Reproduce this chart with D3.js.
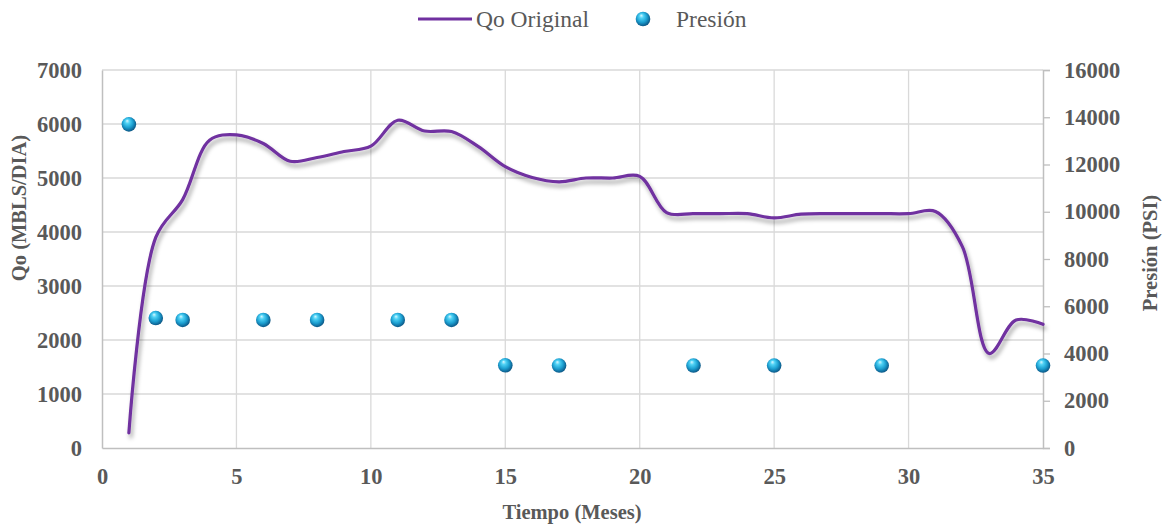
<!DOCTYPE html>
<html>
<head>
<meta charset="utf-8">
<script src="https://cdn.jsdelivr.net/npm/d3@7"></script>
<style>
  html, body { margin: 0; padding: 0; background: #fff; }
  svg { display: block; }
</style>
</head>
<body>
<svg id="chart" width="1166" height="524" font-family="Liberation Serif, Times New Roman, serif"></svg>
<script>
// Monthly oil rate (Qo, MBLS/DIA)
const months = d3.range(1, 36);
const qoOriginal = [280, 3900, 4600, 5700, 5800, 5640, 5310, 5380, 5490, 5590,
                    6070, 5870, 5860, 5580, 5210, 5010, 4930, 5000, 5000, 5030,
                    4360, 4340, 4340, 4340, 4260, 4330, 4340, 4340, 4340, 4340,
                    4380, 3730, 1750, 2370, 2290];

// Pressure measurements (PSI)
const pressureMonths = [1, 2, 3, 6, 8, 11, 13, 15, 17, 22, 25, 29, 35];
const pressureValues = [13700, 5500, 5420, 5420, 5420, 5420, 5420, 3500, 3490, 3490, 3490, 3490, 3490];

const xTicks = [0, 5, 10, 15, 20, 25, 30, 35];
const qoTicks = d3.range(0, 7001, 1000);
const pressureTicks = d3.range(0, 16001, 2000);

const svg = d3.select("#chart");
const margin = { left: 102, right: 123, top: 70, bottom: 76 };
const W = 1166, H = 524;
const x = d3.scaleLinear().domain([0, 35]).range([margin.left, W - margin.right]);
const yL = d3.scaleLinear().domain([0, 7000]).range([H - margin.bottom, margin.top]);
const yR = d3.scaleLinear().domain([0, 16000]).range([H - margin.bottom, margin.top]);

const textColor = "#595959";
const gridColor = "#d9d9d9";
const axisColor = "#bfbfbf";
const serif = "Liberation Serif, Times New Roman, serif";

const defs = svg.append("defs");
const shadow = defs.append("filter").attr("id", "lineShadow")
  .attr("x", "-10%").attr("y", "-10%").attr("width", "120%").attr("height", "130%");
shadow.append("feDropShadow").attr("dx", 2).attr("dy", 4).attr("stdDeviation", 2.2)
  .attr("flood-color", "#000").attr("flood-opacity", 0.35);

const sphere = defs.append("radialGradient").attr("id", "sphere")
  .attr("cx", "0.45").attr("cy", "0.45").attr("r", "0.6")
  .attr("fx", "0.38").attr("fy", "0.25");
[["0%", "#d8f7ff"], ["25%", "#4fd2f5"], ["60%", "#1c9fd0"], ["90%", "#0d5f8f"], ["100%", "#0a4a70"]]
  .forEach(([o, c]) => sphere.append("stop").attr("offset", o).attr("stop-color", c));

// Gridlines
const grid = svg.append("g");
grid.selectAll("line.h").data(qoTicks.slice(1)).join("line")
  .attr("x1", x(0)).attr("x2", x(35))
  .attr("y1", d => yL(d)).attr("y2", d => yL(d))
  .attr("stroke", gridColor).attr("stroke-width", 1.3);
grid.selectAll("line.v").data(xTicks.slice(1, -1)).join("line")
  .attr("x1", d => x(d)).attr("x2", d => x(d))
  .attr("y1", yL(0)).attr("y2", yL(7000))
  .attr("stroke", gridColor).attr("stroke-width", 1.3);

// Axes
const fmt = d3.format("d");
const xAxis = svg.append("g").attr("transform", `translate(0,${yL(0)})`)
  .call(d3.axisBottom(x).tickValues(xTicks).tickFormat(fmt).tickSize(0).tickPadding(20));
const leftAxis = svg.append("g").attr("transform", `translate(${x(0)},0)`)
  .call(d3.axisLeft(yL).tickValues(qoTicks).tickFormat(fmt).tickSize(0).tickPadding(20));
const rightAxis = svg.append("g").attr("transform", `translate(${x(35)},0)`)
  .call(d3.axisRight(yR).tickValues(pressureTicks).tickFormat(fmt).tickSize(7).tickPadding(14));
[xAxis, leftAxis, rightAxis].forEach(g => {
  g.attr("font-family", serif).attr("font-size", 22.5).attr("font-weight", "bold");
  g.select(".domain").attr("stroke", axisColor).attr("stroke-width", 1.5);
  g.selectAll(".tick line").attr("stroke", axisColor).attr("stroke-width", 1.3);
  g.selectAll(".tick text").attr("fill", textColor);
});

// Axis titles
const title = (sel) => sel.attr("text-anchor", "middle").attr("fill", textColor)
  .attr("font-family", serif).attr("font-size", 20.5).attr("font-weight", "bold");
svg.append("text").attr("x", 572).attr("y", 519).call(title).text("Tiempo (Meses)");
svg.append("text").attr("transform", "translate(26,208) rotate(-90)").call(title).text("Qo (MBLS/DIA)");
svg.append("text").attr("transform", "translate(1157,253) rotate(-90)").call(title).text("Presión (PSI)");

// Qo smoothed line
const line = d3.line().x((d, i) => x(months[i])).y(d => yL(d)).curve(d3.curveCatmullRom.alpha(0.5));
svg.append("path").datum(qoOriginal)
  .attr("d", line).attr("fill", "none")
  .attr("stroke", "#7030a0").attr("stroke-width", 3.2).attr("stroke-linecap", "round")
  .attr("filter", "url(#lineShadow)");

// Pressure markers
svg.append("g").selectAll("circle").data(pressureValues).join("circle")
  .attr("cx", (d, i) => x(pressureMonths[i])).attr("cy", d => yR(d))
  .attr("r", 7.3).attr("fill", "url(#sphere)");

// Legend
const legend = svg.append("g").attr("font-family", serif).attr("font-size", 23.5).attr("fill", textColor);
legend.append("line").attr("x1", 418).attr("x2", 472).attr("y1", 19).attr("y2", 19)
  .attr("stroke", "#7030a0").attr("stroke-width", 3.2);
legend.append("text").attr("x", 476).attr("y", 27).text("Qo Original");
legend.append("circle").attr("cx", 643).attr("cy", 19).attr("r", 7.3).attr("fill", "url(#sphere)");
legend.append("text").attr("x", 676).attr("y", 27).text("Presión");
</script>
</body>
</html>
